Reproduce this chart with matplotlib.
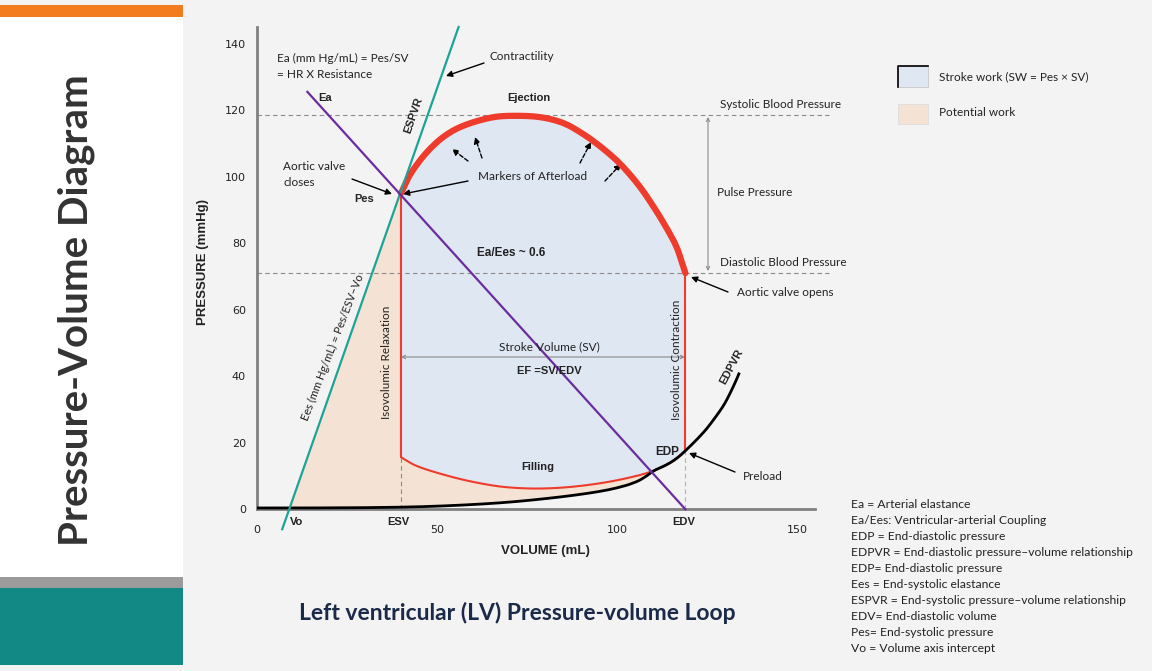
import matplotlib.pyplot as plt
from matplotlib.patches import Rectangle, Polygon, PathPatch
from matplotlib.lines import Line2D
from matplotlib.path import Path

W, H = 1152, 671

# ---- data (mL, mmHg) ----
esv = 40
edv = 119
pes = 95
vo = 9
sbp = 118.5
dbp = 71

eject_v = [119, 117.8, 116.6, 114.3, 111.9, 109.2, 106.4, 103.2, 99.9, 96.2, 92.5, 89.2, 86, 82.8, 79.5,
           76.3, 73.1, 69.8, 66.6, 63.8, 61, 58.2, 55.5, 53.1, 50.8, 48.5, 46.2, 44.3, 42.5, 41.2, 40]
eject_p = [71, 75, 79, 83.6, 88, 92.6, 97, 101.2, 105, 108.4, 111.5, 113.8, 115.8, 117, 117.8,
           118.2, 118.3, 118.3, 118.1, 117.5, 116.7, 115.7, 114.5, 113, 111.2, 108.9, 106.2, 103.5, 100.7, 97.8, 95]
fill_v = [40, 42.5, 45.5, 49, 53.5, 58.3, 63, 67.5, 72, 76.8, 81.5, 86, 90.5, 95.3, 100, 104.5, 107.5, 110.1, 112.5, 114.7, 117, 119]
fill_p = [15.7, 13.9, 12.5, 11.3, 9.9, 8.6, 7.6, 6.8, 6.4, 6.2, 6.3, 6.6, 7.1, 7.8, 8.7, 9.8, 10.6, 11.6, 12.7, 13.9, 15.6, 17.6]
edpvr_v = [0, 20, 40, 52, 63, 72, 81, 88, 95, 100, 104.5, 107.5, 110.1, 112.5, 114.7, 117, 119,
           121, 123, 125, 126.8, 128.5, 130, 131.2, 132.3, 133.2, 134]
edpvr_p = [0.4, 0.4, 0.6, 1.0, 1.6, 2.3, 3.3, 4.2, 5.3, 6.4, 7.8, 9.4, 11.6, 12.7, 13.9, 15.6, 17.6,
           19.7, 21.9, 24.3, 26.9, 29.4, 31.9, 34.4, 36.9, 39.0, 41.1]
espvr_v = [7, 56]
espvr_p = [-6, 145]
ea_v = [14, 119]
ea_p = [125.5, 0]

legend_items = ["Stroke work (SW = Pes \u00d7 SV)", "Potential work"]
abbrev = [
    "Ea = Arterial elastance",
    "Ea/Ees: Ventricular-arterial Coupling",
    "EDP = End-diastolic pressure",
    "EDPVR = End-diastolic pressure\u2013volume relationship",
    "EDP= End-diastolic pressure",
    "Ees = End-systolic elastance",
    "ESPVR = End-systolic pressure\u2013volume relationship",
    "EDV= End-diastolic volume",
    "Pes= End-systolic pressure",
    "Vo = Volume axis intercept",
]

RED = '#ee3b2b'
TEAL = '#1ba497'
PURPLE = '#6b2d9e'
BLUE_FILL = '#dfe7f3'
BEIGE = '#f4e3d4'
GREY = '#8a8a8a'
TXT = '#222222'
REG = 'Lato'
BOLD = 'Liberation Sans'


def fx(x, y):
    return (x / W, 1 - y / H)


def smooth(xs, ys):
    # quadratic bezier through the midpoints, so the polyline has no corners
    pts = list(zip(xs, ys))
    verts, codes = [pts[0]], [Path.MOVETO]
    for i in range(1, len(pts) - 1):
        if i == len(pts) - 2:
            end = pts[-1]
        else:
            end = ((pts[i][0] + pts[i + 1][0]) / 2, (pts[i][1] + pts[i + 1][1]) / 2)
        verts += [pts[i], end]
        codes += [Path.CURVE3, Path.CURVE3]
    return Path(verts, codes)


fig = plt.figure(figsize=(W / 100, H / 100), dpi=100)
fig.patch.set_facecolor('#f3f3f3')

# left banner
fig.add_artist(Rectangle(fx(0, 577), 183 / W, 560 / H, transform=fig.transFigure, color='white', lw=0))
fig.add_artist(Rectangle(fx(0, 17), 183 / W, 12 / H, transform=fig.transFigure, color='#f47c20', lw=0))
fig.add_artist(Rectangle(fx(0, 588), 183 / W, 11 / H, transform=fig.transFigure, color='#9b9b9b', lw=0))
fig.add_artist(Rectangle(fx(0, 665), 183 / W, 77 / H, transform=fig.transFigure, color='#128984', lw=0))
fig.text(*fx(76, 310), "Pressure-Volume Diagram", rotation=90, ha='center', va='center',
         fontsize=29, fontweight='bold', family=REG, color='#333333')

# axes
ax = fig.add_axes([257 / W, (H - 509.3) / H, 558 / W, (509.3 - 27) / H])
ax.set_facecolor('none')
ax.set_xlim(0, 155)
ax.set_ylim(0, 145)
for s in ['top', 'right']:
    ax.spines[s].set_visible(False)
for s in ['left', 'bottom']:
    ax.spines[s].set_color('#808080')
    ax.spines[s].set_linewidth(2)
ax.set_xticks([0, 50, 100, 150])
ax.set_yticks(range(0, 141, 20))
ax.tick_params(length=0, labelsize=8, colors=TXT)
ax.tick_params(axis='x', pad=11)
ax.tick_params(axis='y', pad=8)

# fills
pot = [(vo, 0), (esv, pes)] + [(v, p) for v, p in zip(fill_v, fill_p) if v <= 110.1] + \
      [(v, p) for v, p in zip(edpvr_v[::-1], edpvr_p[::-1]) if vo < v < 110.1] + [(vo, 0.4)]
ax.add_patch(Polygon(pot, closed=True, facecolor=BEIGE, lw=0, zorder=1))
ax.fill(eject_v + fill_v, eject_p + fill_p, color=BLUE_FILL, lw=0, zorder=1)

# reference dashed lines
ax.plot([0, 159], [sbp, sbp], ls=(0, (4, 3)), color=GREY, lw=0.8, clip_on=False, zorder=2)
ax.plot([0, 159], [dbp, dbp], ls=(0, (4, 3)), color=GREY, lw=0.8, clip_on=False, zorder=2)
ax.plot([esv, esv], [0, fill_p[0]], ls=(0, (4, 3)), color=GREY, lw=0.8, zorder=2)
ax.plot([edv, edv], [0, fill_p[-1]], ls=(0, (4, 3)), color='#b0b0b0', lw=0.8, zorder=2)

# loop
ax.add_patch(PathPatch(smooth(fill_v, fill_p), fill=False, edgecolor=RED, lw=1.5, zorder=3))
ax.plot([esv, esv], [pes, fill_p[0]], color=RED, lw=1.5, zorder=3)
ax.plot([edv, edv], [fill_p[-1], eject_p[0]], color=RED, lw=1.5, zorder=3)
ax.add_patch(PathPatch(smooth(eject_v, eject_p), fill=False, edgecolor=RED, lw=4.5,
                       capstyle='round', joinstyle='round', zorder=4))

# relationships
ax.add_patch(PathPatch(smooth(edpvr_v, edpvr_p), fill=False, edgecolor='black', lw=2, zorder=5,
                       clip_on=False))
ax.plot(espvr_v, espvr_p, color=TEAL, lw=1.6, zorder=5, clip_on=False)
ax.plot(ea_v, ea_p, color=PURPLE, lw=1.6, zorder=5, clip_on=False)

# double arrows
arrow_grey = dict(arrowstyle='<->', color=GREY, lw=0.8, shrinkA=0, shrinkB=0, mutation_scale=6)
ax.annotate('', xy=fx(708, 117), xytext=fx(708, 271), xycoords='figure fraction', arrowprops=arrow_grey)
ax.annotate('', xy=fx(401, 357), xytext=fx(685, 357), xycoords='figure fraction', arrowprops=arrow_grey)

# black arrows
arrow_blk = dict(arrowstyle='-|>', color='black', lw=1, shrinkA=0, shrinkB=0, mutation_scale=9)
arrow_dash = dict(arrowstyle='-|>', color='black', lw=1, shrinkA=0, shrinkB=0, mutation_scale=9,
                  linestyle=(0, (3, 1.5)))
for (x0, y0), (x1, y1), st in [((484, 63), (446, 76), arrow_blk),
                               ((352, 179), (392, 194), arrow_blk),
                               ((468, 181), (403, 194), arrow_blk),
                               ((468, 161), (452, 149), arrow_dash),
                               ((482, 158), (475, 137), arrow_dash),
                               ((580, 163), (591, 142), arrow_dash),
                               ((605, 181), (621, 164), arrow_dash),
                               ((728, 292), (691, 277), arrow_blk),
                               ((735, 472), (689, 453), arrow_blk)]:
    ax.annotate('', xy=fx(x1, y1), xytext=fx(x0, y0), xycoords='figure fraction', arrowprops=st)


def t(x, y, s, size=8.5, bold=False, ha='left', rot=0, color=TXT):
    fig.text(*fx(x, y), s, ha=ha, va='center', fontsize=size, rotation=rot, color=color,
             family=BOLD if bold else REG, fontweight='bold' if bold else 'normal',
             rotation_mode='anchor' if rot not in (0, 90) else 'default')


t(277, 58, "Ea (mm Hg/mL) = Pes/SV", 8.5)
t(274, 74, " = HR X Resistance", 8.5)
t(489, 56, "Contractility", 8.5)
t(414, 115, "ESPVR", 8, True, 'center', 71)
t(318, 98, "Ea", 8, True)
t(529, 98, "Ejection", 8, True, 'center')
t(720, 104, "Systolic Blood Pressure", 8.5)
t(283, 167, "Aortic valve", 8.5)
t(283, 183, "closes", 8.5)
t(354, 199, "Pes", 8, True)
t(478, 177, "Markers of Afterload", 8.5)
t(717, 192, "Pulse Pressure", 8.5)
t(720, 262, "Diastolic Blood Pressure", 8.5)
t(737, 293, "Aortic valve opens", 8.5)
t(511, 253, "Ea/Ees ~ 0.6", 8.5, True, 'center')
t(333, 347, "Ees (mm Hg/mL) = Pes/ESV\u2013Vo", 8, False, 'center', 69)
t(386, 362, "Isovolumic Relaxation", 8.5, False, 'center', 90)
t(676, 360, "Isovolumic Contraction", 8.5, False, 'center', 90)
t(549, 347, "Stroke Volume (SV)", 8.5, False, 'center')
t(549, 371, "EF =SV/EDV", 8, True, 'center')
t(538, 467, "Filling", 8, True, 'center')
t(667, 452, "EDP", 8.5, True, 'center')
t(732, 367, "EDPVR", 8, True, 'center', 62)
t(743, 477, "Preload", 8.5)
t(297, 522, "Vo", 8, True, 'center')
t(398, 522, "ESV", 8, True, 'center')
t(684, 522, "EDV", 8, True, 'center')
t(203, 262, "PRESSURE (mmHg)", 9.5, True, 'center', 90)
t(545, 551, "VOLUME (mL)", 9.5, True, 'center')

# legend
fig.add_artist(Rectangle(fx(898, 87), 30 / W, 21 / H, transform=fig.transFigure,
                         facecolor=BLUE_FILL, edgecolor='#c8c8c8', lw=0.6))
fig.add_artist(Line2D([898 / W, 898 / W, 928 / W], [1 - 87 / H, 1 - 66 / H, 1 - 66 / H],
                      transform=fig.transFigure, color='black', lw=1.2))
fig.add_artist(Rectangle(fx(898, 124), 30 / W, 20 / H, transform=fig.transFigure,
                         facecolor=BEIGE, edgecolor='#dddddd', lw=0.6))
t(939, 77, legend_items[0], 8.5)
t(939, 113, legend_items[1], 8.5)

# abbreviations
for i, s in enumerate(abbrev):
    t(851, 504 + i * 16, s, 8.7)

# title
fig.text(*fx(517, 613), "Left ventricular (LV) Pressure-volume Loop", ha='center', va='center',
         fontsize=16.5, fontweight='bold', family=REG, color='#1b2a48')

fig.savefig('out.png', dpi=100, facecolor=fig.get_facecolor())
